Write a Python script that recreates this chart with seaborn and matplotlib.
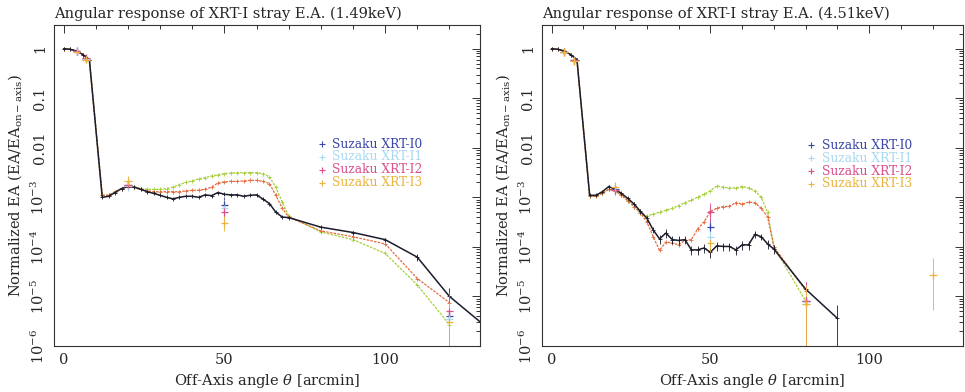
import numpy as np
import pandas as pd
import matplotlib
matplotlib.use("Agg")
import matplotlib.pyplot as plt
import seaborn as sns

# ---------------- data ----------------
head_x = [0, 2, 4, 6, 8]
head_y = [1.0, 0.97, 0.9, 0.76, 0.6]

grid_x = [12, 14, 16, 18, 20, 22, 24, 26, 28, 30, 32, 34, 36, 38, 40,
          42, 44, 46, 48, 50, 52, 54, 56, 58, 60, 62, 64, 66, 68, 70]

# 1.49 keV panel
l_tail_x = [80, 90, 100, 110, 120, 130]
l_black = [1.0e-3, 1.05e-3, 1.25e-3, 1.5e-3, 1.65e-3, 1.6e-3, 1.45e-3, 1.3e-3, 1.2e-3, 1.1e-3,
           1.0e-3, 0.93e-3, 1.0e-3, 1.05e-3, 1.05e-3, 1.0e-3, 1.12e-3, 1.08e-3, 1.25e-3, 1.15e-3,
           1.12e-3, 1.12e-3, 1.05e-3, 1.1e-3, 1.12e-3, 0.92e-3, 0.75e-3, 0.5e-3, 0.4e-3, 0.39e-3]
l_black_tail = [2.5e-4, 1.95e-4, 1.4e-4, 6.2e-5, 1.0e-5, 2.9e-6]
l_black_err = [0.04] * 30
l_black_tail_err = [0.05, 0.07, 0.08, 0.15, 0.5, 0.0]

l_green = [1.1e-3, 1.1e-3, 1.3e-3, 1.5e-3, 1.7e-3, 1.65e-3, 1.5e-3, 1.45e-3, 1.45e-3, 1.45e-3,
           1.5e-3, 1.6e-3, 1.8e-3, 2.0e-3, 2.15e-3, 2.35e-3, 2.5e-3, 2.7e-3, 2.85e-3, 3.0e-3,
           3.1e-3, 3.15e-3, 3.15e-3, 3.15e-3, 3.15e-3, 3.0e-3, 2.6e-3, 1.6e-3, 8.0e-4, 4.2e-4]
l_green_tail = [2.0e-4, 1.4e-4, 7.4e-5, 1.7e-5, 2.7e-6]

l_red = [1.1e-3, 1.1e-3, 1.3e-3, 1.5e-3, 1.65e-3, 1.6e-3, 1.45e-3, 1.35e-3, 1.3e-3, 1.3e-3,
         1.3e-3, 1.3e-3, 1.3e-3, 1.35e-3, 1.38e-3, 1.4e-3, 1.45e-3, 1.6e-3, 1.95e-3, 2.05e-3,
         2.1e-3, 2.1e-3, 2.15e-3, 2.2e-3, 2.2e-3, 2.1e-3, 1.9e-3, 1.1e-3, 6.0e-4, 4.0e-4]
l_red_tail = [2.1e-4, 1.6e-4, 1.15e-4, 2.3e-5, 7.5e-6]

# 4.51 keV panel
r_tail_x = [80, 90]
r_black = [1.1e-3, 1.1e-3, 1.3e-3, 1.65e-3, 1.45e-3, 1.2e-3, 9.5e-4, 7.3e-4, 5.2e-4, 3.8e-4,
           2.2e-4, 1.45e-4, 1.9e-4, 1.4e-4, 1.35e-4, 1.4e-4, 8.7e-5, 8.7e-5, 9.5e-5, 7.8e-5,
           1.05e-4, 1.02e-4, 1.02e-4, 8.7e-5, 1.1e-4, 1.1e-4, 1.78e-4, 1.6e-4, 1.15e-4, 9.0e-5]
r_black_tail = [1.4e-5, 3.6e-6]
r_black_err = [0.04, 0.04, 0.04, 0.05, 0.05, 0.05, 0.06, 0.08, 0.1, 0.12,
               0.15, 0.2, 0.2, 0.2, 0.2, 0.2, 0.2, 0.2, 0.2, 0.25,
               0.2, 0.2, 0.2, 0.2, 0.2, 0.2, 0.15, 0.15, 0.2, 0.2]
r_black_tail_err = [0.2, 0.9]

r_green = [1.05e-3, 1.05e-3, 1.2e-3, 1.45e-3, 1.35e-3, 1.1e-3, 8.5e-4, 6.5e-4, 5.0e-4, 4.2e-4,
           4.6e-4, 5.0e-4, 5.5e-4, 6.0e-4, 6.8e-4, 7.8e-4, 8.8e-4, 1.0e-3, 1.15e-3, 1.35e-3,
           1.7e-3, 1.6e-3, 1.55e-3, 1.55e-3, 1.65e-3, 1.55e-3, 1.35e-3, 1.0e-3, 5.0e-4, 1.0e-4]
r_green_tail = [8e-6]

r_red = [1.05e-3, 1.05e-3, 1.2e-3, 1.45e-3, 1.35e-3, 1.1e-3, 8.5e-4, 6.5e-4, 4.8e-4, 3.2e-4,
         1.6e-4, 8.5e-5, 1.25e-4, 1.2e-4, 1.1e-4, 1.35e-4, 1.4e-4, 2.3e-4, 3.2e-4, 5.2e-4,
         6.0e-4, 6.5e-4, 6.6e-4, 7.8e-4, 7.3e-4, 8.0e-4, 7.8e-4, 6.0e-4, 4.0e-4, 1.0e-4]
r_red_tail = [1.3e-5]

# Suzaku measurements
series_names = ["Suzaku XRT-I0", "Suzaku XRT-I1", "Suzaku XRT-I2", "Suzaku XRT-I3"]
l_meas_x = [4, 7, 20, 50, 120]
l_meas = {
    "Suzaku XRT-I0": [0.9, 0.63, 1.75e-3, 7.0e-4, 4.0e-6],
    "Suzaku XRT-I1": [0.9, 0.62, 1.7e-3, 6.0e-4, 3.5e-6],
    "Suzaku XRT-I2": [0.88, 0.65, 1.8e-3, 5.0e-4, 5.0e-6],
    "Suzaku XRT-I3": [0.87, 0.6, 2.1e-3, 3.0e-4, 3.0e-6],
}
l_meas_err = [0.06, 0.08, 0.2, 0.3, 0.99]

r_meas_x = [4, 7, 20, 50, 80, 120]
r_meas = {
    "Suzaku XRT-I0": [0.87, 0.6, 1.5e-3, 2.5e-4, 8.0e-6, np.nan],
    "Suzaku XRT-I1": [0.87, 0.6, 1.4e-3, 1.6e-4, 7.0e-6, np.nan],
    "Suzaku XRT-I2": [0.85, 0.58, 1.4e-3, 5.0e-4, 8.0e-6, np.nan],
    "Suzaku XRT-I3": [0.86, 0.57, 1.6e-3, 1.2e-4, 7.0e-6, 2.7e-5],
}
r_meas_err = [0.06, 0.08, 0.2, 0.35, 0.99, 0.8]

titles = ["Angular response of XRT-I stray E.A. (1.49keV)",
          "Angular response of XRT-I stray E.A. (4.51keV)"]
ytick_vals = [1, 0.1, 0.01, 1e-3, 1e-4, 1e-5, 1e-6]
ytick_labels = ["1", "0.1", "0.01", r"$10^{-3}$", r"$10^{-4}$", r"$10^{-5}$", r"$10^{-6}$"]
xtick_vals = [0, 50, 100]

# ---------------- style ----------------
sns.set_theme(style="white")
plt.rcParams["font.family"] = ["DejaVu Serif"]
plt.rcParams["mathtext.fontset"] = "dejavuserif"

col_black = "#1c1c2c"
col_green = "#a6cf3a"
col_red = "#e56a3e"
meas_colors = {"Suzaku XRT-I0": "#3b47a8", "Suzaku XRT-I1": "#a9d9ef",
               "Suzaku XRT-I2": "#d9508c", "Suzaku XRT-I3": "#eab43f"}

fig = plt.figure(figsize=(9.65, 3.92), dpi=100)
ax_l = fig.add_axes([54 / 965, 1 - 346 / 392, 426 / 965, 321 / 392])
ax_r = fig.add_axes([542 / 965, 1 - 346 / 392, 421 / 965, 321 / 392])


def build(xs_tail, black, black_tail, green, green_tail, red, red_tail):
    rows = []
    for name, body, tail in [("green", green, green_tail), ("red", red, red_tail),
                             ("black", black, black_tail)]:
        xs = head_x + grid_x + xs_tail[:len(tail)]
        ys = head_y + body + tail
        for x, y in zip(xs, ys):
            rows.append({"theta": x, "ea": y, "model": name})
    return pd.DataFrame(rows)


panels = [
    (ax_l, build(l_tail_x, l_black, l_black_tail, l_green, l_green_tail, l_red, l_red_tail),
     grid_x + l_tail_x, l_black + l_black_tail, l_black_err + l_black_tail_err,
     l_meas_x, l_meas, l_meas_err, titles[0], (0.629, 0.653), [0.628, 0.589, 0.549, 0.509]),
    (ax_r, build(r_tail_x, r_black, r_black_tail, r_green, r_green_tail, r_red, r_red_tail),
     grid_x + r_tail_x, r_black + r_black_tail, r_black_err + r_black_tail_err,
     r_meas_x, r_meas, r_meas_err, titles[1], (0.639, 0.665), [0.625, 0.585, 0.545, 0.505]),
]

for ax, df, bx, by, be, mx, meas, merr, title, legx, legy in panels:
    for model, color, ls, lw in [("green", col_green, (0, (2, 1)), 0.9),
                                 ("red", col_red, (0, (2, 1)), 0.9),
                                 ("black", col_black, "-", 1.1)]:
        sub = df[df["model"] == model]
        sns.lineplot(data=sub, x="theta", y="ea", ax=ax, color=color, lw=lw,
                     linestyle=ls, estimator=None, sort=False, legend=False,
                     marker="+", markersize=3, markeredgewidth=0.6, markeredgecolor=color)
    # black errorbars
    by_a = np.array(by)
    be_a = np.array(be)
    lo = by_a * np.minimum(be_a, 0.999)
    ax.errorbar(bx, by, yerr=[lo, by_a * be_a], fmt="none", ecolor=col_black,
                elinewidth=0.6, capsize=0)
    # measurements
    mrows = []
    for name in series_names:
        for x, y in zip(mx, meas[name]):
            mrows.append({"theta": x, "ea": y, "series": name})
    mdf = pd.DataFrame(mrows).dropna()
    for name in series_names:
        ys = np.array(meas[name], dtype=float)
        e = np.array(merr)
        ok = ~np.isnan(ys)
        ax.errorbar(np.array(mx)[ok], ys[ok],
                    yerr=[ys[ok] * np.minimum(e[ok], 0.999), ys[ok] * e[ok] * 1.5],
                    fmt="none", ecolor=meas_colors[name], elinewidth=0.7,
                    linestyle=(0, (1, 1)), capsize=0, alpha=0.9)
    sns.scatterplot(data=mdf, x="theta", y="ea", hue="series", palette=meas_colors,
                    marker="+", s=30, linewidth=0.9, ax=ax, legend=False, zorder=5)

    # axes style
    ax.set_yscale("log")
    ax.set_ylim(1e-6, 3.0)
    ax.set_xlim(-3, 129.5)
    ax.set_xticks(xtick_vals)
    ax.set_xticks(np.arange(0, 130, 10), minor=True)
    ax.set_yticks(ytick_vals)
    ax.set_yticklabels(ytick_labels, rotation=90, va="center", fontsize=10.5)
    ax.tick_params(axis="x", labelsize=10.5)
    ax.yaxis.set_minor_locator(matplotlib.ticker.LogLocator(base=10, subs=np.arange(2, 10)))
    ax.yaxis.set_minor_formatter(matplotlib.ticker.NullFormatter())
    ax.tick_params(which="both", direction="in", top=True, right=True, color="#333333",
                   width=0.7)
    ax.tick_params(which="major", length=6, pad=5)
    ax.tick_params(which="minor", length=3)
    for s in ax.spines.values():
        s.set_color("#333333")
        s.set_linewidth(0.8)
    ax.set_xlabel(r"Off-Axis angle $\theta$ [arcmin]", fontsize=10.5, labelpad=4)
    ax.set_ylabel(r"Normalized EA (EA/EA$_{\rm on-axis}$)", fontsize=10.5, labelpad=4)
    ax.set_title(title, loc="left", fontsize=10.5, pad=5)

    # legend as coloured text
    for name, yy in zip(series_names, legy):
        ax.plot([legx[0]], [yy], marker="+", color=meas_colors[name], ms=4, mew=0.8,
                transform=ax.transAxes, ls="none")
        ax.text(legx[1], yy, name, color=meas_colors[name], transform=ax.transAxes,
                fontsize=8.8, va="center", ha="left")

fig.savefig("out.png", dpi=100)
